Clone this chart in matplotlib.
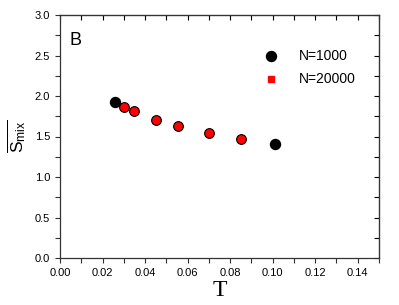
import numpy as np
import matplotlib
matplotlib.use('Agg')
import matplotlib.pyplot as plt
from matplotlib.lines import Line2D
from matplotlib.ticker import MultipleLocator

plt.rcParams['font.family'] = ['Liberation Sans', 'DejaVu Sans']
plt.rcParams['mathtext.fontset'] = 'custom'
plt.rcParams['mathtext.sf'] = 'Liberation Sans'
plt.rcParams['mathtext.rm'] = 'Liberation Sans'

# N=1000 points
t_1000 = [0.026, 0.101]
s_1000 = [1.93, 1.41]
# N=20000 points
t_20000 = [0.030, 0.035, 0.045, 0.0555, 0.070, 0.085]
s_20000 = [1.87, 1.81, 1.70, 1.63, 1.54, 1.47]

fig = plt.figure(figsize=(3.99, 3.05), dpi=100)
ax = fig.add_axes([60/399, 1 - 258/305, 319/399, 243/305])

ax.plot(t_1000, s_1000, 'o', color='black', ms=7.2, mec='black', zorder=3)
ax.plot(t_20000, s_20000, 'o', color='red', ms=7.0, mec='black', mew=0.8, zorder=3)

ax.set_xlim(0, 0.15)
ax.set_ylim(0, 3.0)
ax.xaxis.set_minor_locator(MultipleLocator(0.01))
ax.yaxis.set_major_locator(MultipleLocator(0.5))
ax.yaxis.set_minor_locator(MultipleLocator(0.25))
ax.set_xticks(np.arange(0, 0.141, 0.02))
ax.set_xticklabels(['%.2f' % v for v in np.arange(0, 0.141, 0.02)])
ax.set_yticklabels(['%.1f' % v for v in ax.get_yticks()])

for side in ['left', 'bottom', 'top', 'right']:
    ax.spines[side].set_linewidth(0.9)
    ax.spines[side].set_color('#333333')

ax.tick_params(which='both', direction='out', labelsize=8, width=0.8, color='#333333',
               top=False, right=False, length=3.5)

# inward ticks on top and right
ax2 = ax.secondary_xaxis('top')
ax2.xaxis.set_major_locator(MultipleLocator(0.02))
ax2.xaxis.set_minor_locator(MultipleLocator(0.01))
ax2.tick_params(which='both', direction='in', length=3.5, width=0.8, labeltop=False)
ax3 = ax.secondary_yaxis('right')
ax3.yaxis.set_major_locator(MultipleLocator(0.5))
ax3.yaxis.set_minor_locator(MultipleLocator(0.25))
ax3.tick_params(which='both', direction='in', length=3.5, width=0.8, labelright=False)

ax.set_xlabel('T', family='Liberation Serif', fontsize=17, labelpad=2)
ax.set_ylabel(r'$\overline{\mathsf{S_{mix}}}$', fontsize=12.5, labelpad=5)

ax.text(0.03, 0.93, 'B', transform=ax.transAxes, fontsize=13, va='top', ha='left')

handles = [Line2D([], [], ls='none', marker='o', color='black', ms=7.2),
           Line2D([], [], ls='none', marker='s', color='red', ms=5)]
ax.legend(handles, ['N=1000', 'N=20000'], loc='upper right', bbox_to_anchor=(0.965, 0.91),
          frameon=False, fontsize=10, handletextpad=1.2, labelspacing=0.65,
          handlelength=1.5)

fig.savefig('out.png', dpi=100)
